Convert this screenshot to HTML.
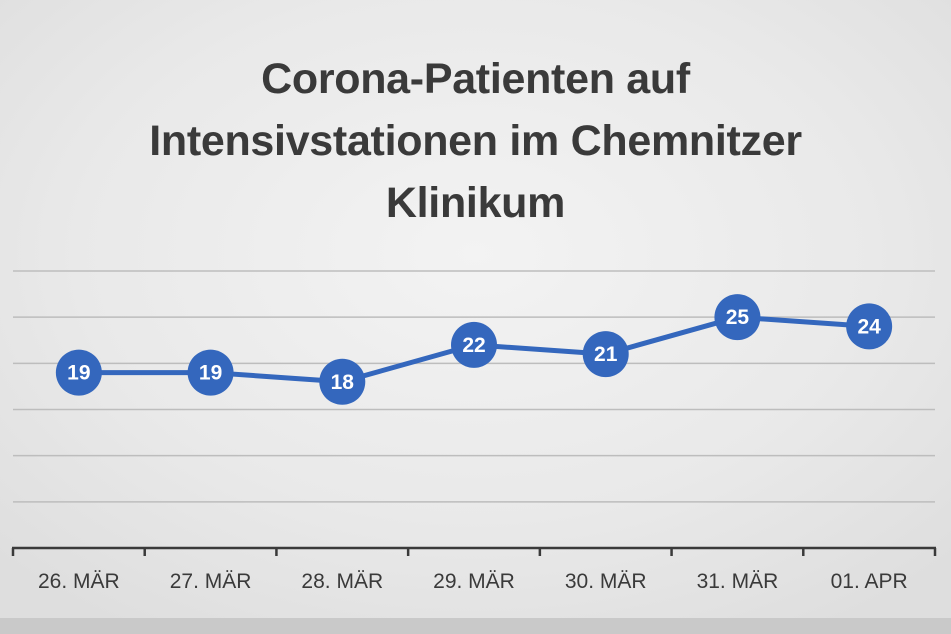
<!DOCTYPE html>
<html><head><meta charset="utf-8"><style>
html,body{margin:0;padding:0}
body{width:951px;height:634px;overflow:hidden;font-family:"Liberation Sans",sans-serif;
background:radial-gradient(ellipse 70% 70% at 50% 40%,#f3f3f3 0%,#e9e9e9 60%,#dedede 100%);position:relative}
#title{position:absolute;left:0;width:951px;top:48px;text-align:center;font-weight:bold;font-size:43px;line-height:62px;color:#3a3a3a;letter-spacing:-0.3px}
#strip{position:absolute;left:0;top:618px;width:951px;height:16px;background:#c9c9c9}
svg{position:absolute;left:0;top:0}
</style></head><body>
<div id="strip"></div>
<div id="title">Corona-Patienten auf<br>Intensivstationen im Chemnitzer<br>Klinikum</div>
<svg id="chart" width="951" height="634"></svg>
<script>
const categories=["26. MÄR","27. MÄR","28. MÄR","29. MÄR","30. MÄR","31. MÄR","01. APR"];
const values=[19,19,18,22,21,25,24];
const yTicks=[0,5,10,15,20,25,30];
const NS="http://www.w3.org/2000/svg";
const svg=document.getElementById('chart');
const x0=13,x1=935,y0=548,yTop=271,yMax=30;
const band=(x1-x0)/categories.length;
const xs=i=>x0+band*(i+0.5);
const ys=v=>y0-(v/yMax)*(y0-yTop);
function mk(t,a){const e=document.createElementNS(NS,t);for(const k in a)e.setAttribute(k,a[k]);svg.appendChild(e);return e;}
yTicks.forEach(t=>{if(t===0)return;
const g=mk('line',{x1:x0,x2:x1,y1:ys(t),y2:ys(t),stroke:'#bdbdbd','stroke-width':1.5});

});
const ax=mk('line',{x1:x0-1,x2:x1+1,y1:y0,y2:y0,stroke:'#3a3a3a','stroke-width':2.5});


for(let i=0;i<=categories.length;i++){
const tk=mk('line',{x1:x0+band*i,x2:x0+band*i,y1:y0,y2:y0+8,stroke:'#3a3a3a','stroke-width':2.5});

}
categories.forEach((c,i)=>{const t=mk('text',{x:xs(i),y:588,'text-anchor':'middle','font-size':21,fill:'#3a3a3a','font-family':'Liberation Sans, sans-serif'});
t.textContent=c;

});
const pl=mk('polyline',{points:values.map((v,i)=>xs(i)+','+ys(v)).join(' '),fill:'none',stroke:'#3467bd','stroke-width':5,'stroke-linejoin':'round'});


values.forEach((v,i)=>{
const c=mk('circle',{cx:xs(i),cy:ys(v),r:23,fill:'#3467bd'});


const t=mk('text',{x:xs(i),y:ys(v)+7,'text-anchor':'middle','font-size':21,'font-weight':'bold',fill:'#fff','font-family':'Liberation Sans, sans-serif'});
t.textContent=v;

});
</script>
</body></html>
